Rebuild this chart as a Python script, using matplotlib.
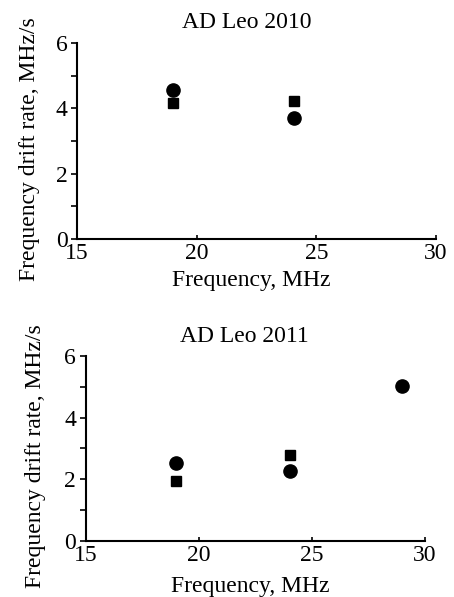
import matplotlib
matplotlib.use("Agg")
import matplotlib.pyplot as plt
from matplotlib.ticker import MultipleLocator

plt.rcParams['font.family'] = ['Liberation Serif', 'DejaVu Serif']

# AD Leo 2010
x_circ_2010 = [19.0, 24.05]
y_circ_2010 = [4.57, 3.70]
x_sq_2010 = [19.0, 24.05]
y_sq_2010 = [4.17, 4.23]

# AD Leo 2011
x_circ_2011 = [19.0, 24.05, 29.0]
y_circ_2011 = [2.52, 2.28, 5.02]
x_sq_2011 = [19.0, 24.05]
y_sq_2011 = [1.95, 2.80]

titles = ['AD Leo 2010', 'AD Leo 2011']

fig = plt.figure(figsize=(4.54, 5.97), dpi=100)
ax1 = fig.add_axes([0.170, 0.600, 0.790, 0.328])
ax2 = fig.add_axes([0.189, 0.094, 0.747, 0.310])

# per panel: ylabel x, xlabel y, title x, title pad
panels = [
    (ax1, x_circ_2010, y_circ_2010, x_sq_2010, y_sq_2010, titles[0], -0.105, -0.16, 0.474, 11),
    (ax2, x_circ_2011, y_circ_2011, x_sq_2011, y_sq_2011, titles[1], -0.118, -0.19, 0.469, 10),
]

for ax, xc, yc, xs, ys, title, ylx, xly, tx, tpad in panels:
    ax.plot(xc, yc, 'o', color='black', markersize=9.5, clip_on=False)
    ax.plot(xs, ys, 's', color='black', markersize=7.5, clip_on=False)
    ax.set_xlim(15, 30)
    ax.set_ylim(0, 6)
    ax.xaxis.set_major_locator(MultipleLocator(5))
    ax.yaxis.set_major_locator(MultipleLocator(2))
    ax.yaxis.set_minor_locator(MultipleLocator(1))
    ax.spines['top'].set_visible(False)
    ax.spines['right'].set_visible(False)
    ax.spines['left'].set_linewidth(1.5)
    ax.spines['bottom'].set_linewidth(1.5)
    ax.tick_params(axis='y', which='both', direction='out', length=4, width=1.2,
                   labelsize=17, pad=3)
    ax.tick_params(axis='x', which='major', direction='in', length=3, width=1.2,
                   labelsize=17, pad=3)
    ax.set_xlabel('Frequency, MHz', fontsize=17)
    ax.set_ylabel('Frequency drift rate, MHz/s', fontsize=17)
    ax.yaxis.set_label_coords(ylx, 0.46)
    ax.xaxis.set_label_coords(0.485, xly)
    ax.set_title(title, fontsize=17, pad=tpad)
    ax.title.set_x(tx)

fig.savefig('out.png', dpi=100)
